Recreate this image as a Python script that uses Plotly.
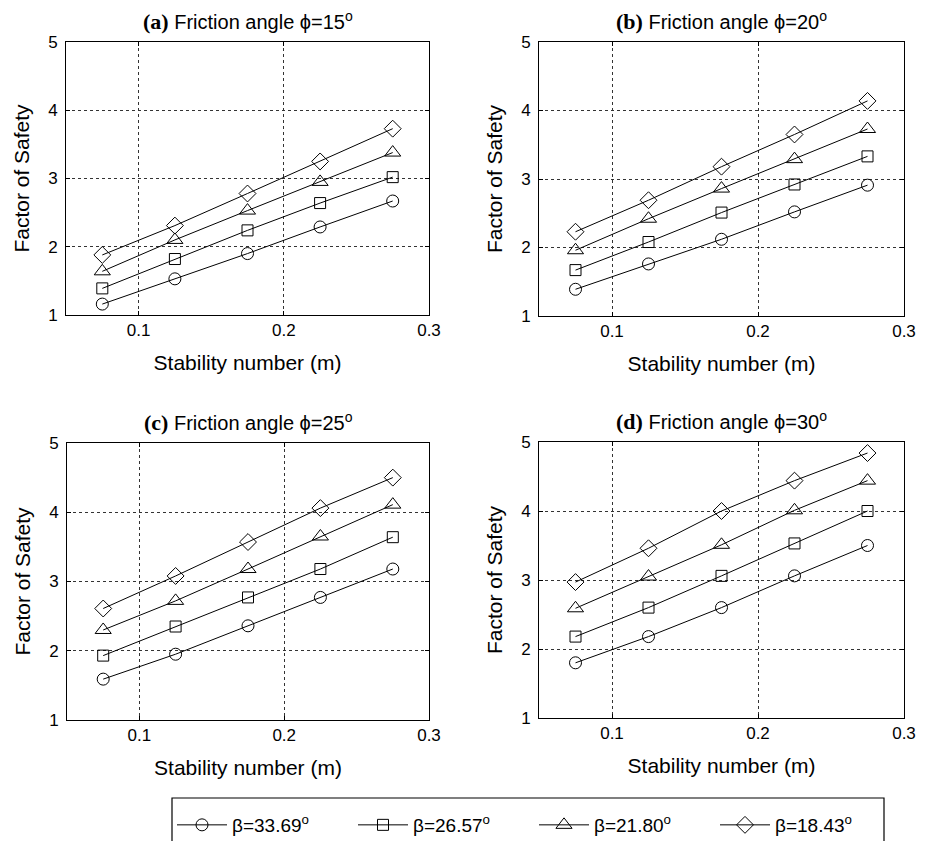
import plotly.graph_objects as go
from plotly.subplots import make_subplots

stability_number = [0.075, 0.125, 0.175, 0.225, 0.275]
series_names = ["β=33.69<sup>o</sup>", "β=26.57<sup>o</sup>", "β=21.80<sup>o</sup>", "β=18.43<sup>o</sup>"]
panel_titles = ["(a)", "(b)", "(c)", "(d)"]
panel_phi = ["15", "20", "25", "30"]

fs_a_33 = [1.16, 1.53, 1.90, 2.29, 2.67]
fs_a_26 = [1.39, 1.82, 2.24, 2.64, 3.02]
fs_a_21 = [1.64, 2.10, 2.53, 2.95, 3.38]
fs_a_18 = [1.88, 2.31, 2.78, 3.25, 3.73]

fs_b_33 = [1.39, 1.76, 2.12, 2.52, 2.91]
fs_b_26 = [1.67, 2.08, 2.51, 2.92, 3.33]
fs_b_21 = [1.96, 2.42, 2.86, 3.29, 3.73]
fs_b_18 = [2.23, 2.69, 3.18, 3.65, 4.14]

fs_c_33 = [1.59, 1.95, 2.36, 2.77, 3.18]
fs_c_26 = [1.93, 2.35, 2.77, 3.18, 3.64]
fs_c_21 = [2.30, 2.72, 3.18, 3.65, 4.11]
fs_c_18 = [2.61, 3.08, 3.57, 4.06, 4.50]

fs_d_33 = [1.80, 2.18, 2.60, 3.06, 3.50]
fs_d_26 = [2.18, 2.60, 3.06, 3.53, 4.00]
fs_d_21 = [2.59, 3.05, 3.51, 4.01, 4.44]
fs_d_18 = [2.97, 3.46, 4.00, 4.44, 4.84]

x_ticks = [0.1, 0.2, 0.3]
x_tick_labels = ["0.1", "0.2", "0.3"]
y_ticks = [1, 2, 3, 4, 5]

panels = [
    [fs_a_33, fs_a_26, fs_a_21, fs_a_18],
    [fs_b_33, fs_b_26, fs_b_21, fs_b_18],
    [fs_c_33, fs_c_26, fs_c_21, fs_c_18],
    [fs_d_33, fs_d_26, fs_d_21, fs_d_18],
]
symbols = ["circle-open", "square-open", "triangle-up-open", "diamond-open"]
sizes = [12, 11, 14, 13]

W, H = 932, 841
FONT = "Liberation Sans, Arial, sans-serif"
SERIF = "Liberation Serif, Times New Roman, serif"

fig = make_subplots(rows=2, cols=2)

# pixel boxes (left, right, top, bottom)
boxes = [(66, 429, 42, 315), (539, 904, 42, 316), (67, 429, 443, 720), (539, 904, 442, 718)]

for i, data in enumerate(panels):
    r, c = i // 2 + 1, i % 2 + 1
    for j, ys in enumerate(data):
        fig.add_trace(go.Scatter(
            x=stability_number, y=ys, mode="lines+markers",
            name=series_names[j], legendgroup=str(j), showlegend=(i == 0),
            line=dict(color="black", width=1),
            marker=dict(symbol=symbols[j], size=sizes[j], color="black",
                        line=dict(width=1, color="black")),
        ), row=r, col=c)
    l, rr, t, b = boxes[i]
    xa = "xaxis" if i == 0 else f"xaxis{i+1}"
    ya = "yaxis" if i == 0 else f"yaxis{i+1}"
    fig.layout[xa].update(domain=[l / W, rr / W])
    fig.layout[ya].update(domain=[1 - b / H, 1 - t / H])
    fig.add_annotation(
        x=(l + rr) / 2 / W, y=1 - (t - 21) / H, xref="paper", yref="paper",
        text=(f"<span style='font-family:{SERIF};font-size:22px'><b>{panel_titles[i]}</b></span>"
              f" Friction angle ϕ={panel_phi[i]}<sup>o</sup>"),
        showarrow=False, font=dict(size=20, family=FONT, color="black"),
        xanchor="center", yanchor="middle",
    )

fig.update_xaxes(
    range=[0.05, 0.3], tickvals=x_ticks, ticktext=x_tick_labels, automargin=False,
    showline=True, linecolor="black", linewidth=1, mirror="ticks",
    ticks="inside", ticklen=4, tickcolor="black",
    showgrid=True, gridcolor="#333333", griddash="3px,3px", gridwidth=1,
    zeroline=False, tickfont=dict(size=17, family=FONT, color="black"),
    title=dict(text="Stability number (m)", font=dict(size=21, family=FONT, color="black"), standoff=15),
)
fig.update_yaxes(
    range=[1, 5], tickvals=y_ticks, automargin=False, ticklabelstandoff=4,
    showline=True, linecolor="black", linewidth=1, mirror="ticks",
    ticks="inside", ticklen=4, tickcolor="black",
    showgrid=True, gridcolor="#333333", griddash="3px,3px", gridwidth=1,
    zeroline=False, tickfont=dict(size=17, family=FONT, color="black"),
    title=dict(text="Factor of Safety", font=dict(size=21, family=FONT, color="black"), standoff=12),
)

# legend frame (runs off the bottom edge as in the reference)
fig.add_shape(type="rect", xref="paper", yref="paper",
              x0=172 / W, x1=884 / W, y0=1 - 860 / H, y1=1 - 798 / H,
              line=dict(color="black", width=1.2), fillcolor="rgba(0,0,0,0)")

fig.update_layout(
    width=W, height=H, margin=dict(l=0, r=0, t=0, b=0, autoexpand=False),
    paper_bgcolor="white", plot_bgcolor="white",
    font=dict(family=FONT, color="black"),
    legend=dict(
        orientation="h", x=172 / W, y=1 - 806 / H, xanchor="left", yanchor="top",
        borderwidth=0, bgcolor="rgba(0,0,0,0)",
        font=dict(size=19, family=FONT, color="black"),
        itemwidth=50, entrywidth=116, entrywidthmode="pixels", tracegroupgap=0,
    ),
)

fig.write_html("out.html", config={"displayModeBar": False},
               post_script="document.body.style.margin='0px';")
